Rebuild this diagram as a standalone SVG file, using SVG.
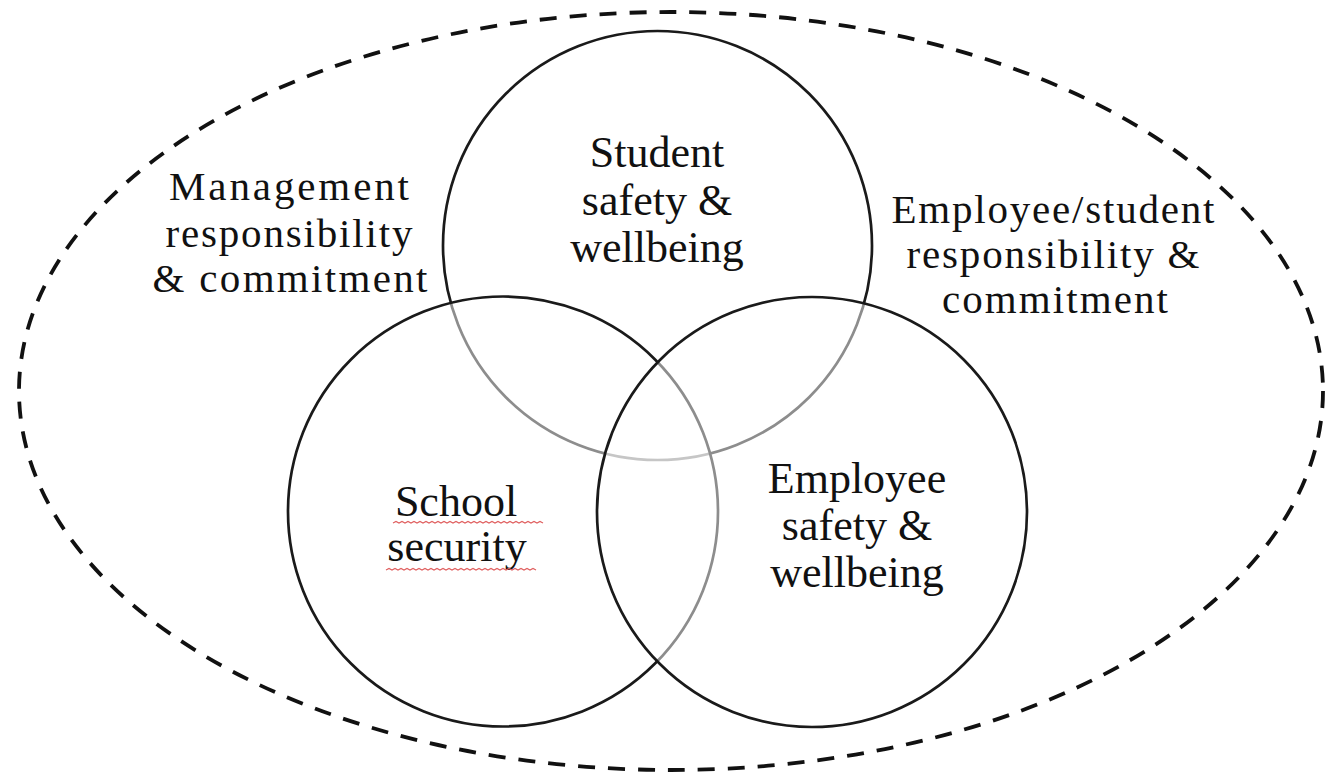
<svg xmlns="http://www.w3.org/2000/svg" width="1334" height="775" viewBox="0 0 1334 775">
<style>
.circ{stroke:#1a1a1a;stroke-width:2.7;fill:#fff;fill-opacity:0.5}
.lbl{font-family:"Liberation Serif","Times New Roman",serif;font-size:44px;fill:#111;text-anchor:middle}
.side{font-family:"Liberation Serif","Times New Roman",serif;font-size:41px;fill:#111;text-anchor:middle}
.wavy{fill:none;stroke:#e06060;stroke-width:1.3}
</style>
<rect width="1334" height="775" fill="#fff"/>
<g id="boundary">
<ellipse cx="671" cy="391" rx="652" ry="379" fill="none" stroke="#111" stroke-width="3.8" stroke-dasharray="17 13"/>
</g>
<g id="connectors"></g>
<g id="node-student">
<circle class="circ" cx="657.5" cy="245.5" r="214.5" style="fill-opacity:1"/>
<text class="lbl" x="657" y="167">Student</text>
<text class="lbl" x="657" y="215">safety &amp;</text>
<text class="lbl" x="657" y="262">wellbeing</text>
</g>
<g id="node-school">
<circle class="circ" cx="503" cy="511.5" r="215"/>
<text class="lbl" x="456" y="516">School</text>
<text class="lbl" x="457" y="561">security</text>
<path class="wavy" d="M393 523 l3 -1.5 l3 1.5 l3 -1.5 l3 1.5 l3 -1.5 l3 1.5 l3 -1.5 l3 1.5 l3 -1.5 l3 1.5 l3 -1.5 l3 1.5 l3 -1.5 l3 1.5 l3 -1.5 l3 1.5 l3 -1.5 l3 1.5 l3 -1.5 l3 1.5 l3 -1.5 l3 1.5 l3 -1.5 l3 1.5 l3 -1.5 l3 1.5 l3 -1.5 l3 1.5 l3 -1.5 l3 1.5 l3 -1.5 l3 1.5 l3 -1.5 l3 1.5 l3 -1.5 l3 1.5 l3 -1.5 l3 1.5 l3 -1.5 l3 1.5 l3 -1.5 l3 1.5 l3 -1.5 l3 1.5 l3 -1.5 l3 1.5 l3 -1.5 l3 1.5 l3 -1.5 l3 1.5"/>
<path class="wavy" d="M386 570 l3 -1.5 l3 1.5 l3 -1.5 l3 1.5 l3 -1.5 l3 1.5 l3 -1.5 l3 1.5 l3 -1.5 l3 1.5 l3 -1.5 l3 1.5 l3 -1.5 l3 1.5 l3 -1.5 l3 1.5 l3 -1.5 l3 1.5 l3 -1.5 l3 1.5 l3 -1.5 l3 1.5 l3 -1.5 l3 1.5 l3 -1.5 l3 1.5 l3 -1.5 l3 1.5 l3 -1.5 l3 1.5 l3 -1.5 l3 1.5 l3 -1.5 l3 1.5 l3 -1.5 l3 1.5 l3 -1.5 l3 1.5 l3 -1.5 l3 1.5 l3 -1.5 l3 1.5 l3 -1.5 l3 1.5 l3 -1.5 l3 1.5 l3 -1.5 l3 1.5 l3 -1.5 l3 1.5"/>
</g>
<g id="node-employee">
<circle class="circ" cx="812" cy="512" r="215"/>
<text class="lbl" x="857" y="493">Employee</text>
<text class="lbl" x="857" y="540">safety &amp;</text>
<text class="lbl" x="857" y="587">wellbeing</text>
</g>
<g id="label-management">
<text class="side" x="289" y="200" textLength="240" lengthAdjust="spacing">Management</text>
<text class="side" x="289" y="247" textLength="247" lengthAdjust="spacing">responsibility</text>
<text class="side" x="290" y="292" textLength="275" lengthAdjust="spacing">&amp; commitment</text>
</g>
<g id="label-employee-student">
<text class="side" x="1053" y="223" textLength="323" lengthAdjust="spacing">Employee/student</text>
<text class="side" x="1053" y="268" textLength="293" lengthAdjust="spacing">responsibility &amp;</text>
<text class="side" x="1055" y="313" textLength="226" lengthAdjust="spacing">commitment</text>
</g>
</svg>
